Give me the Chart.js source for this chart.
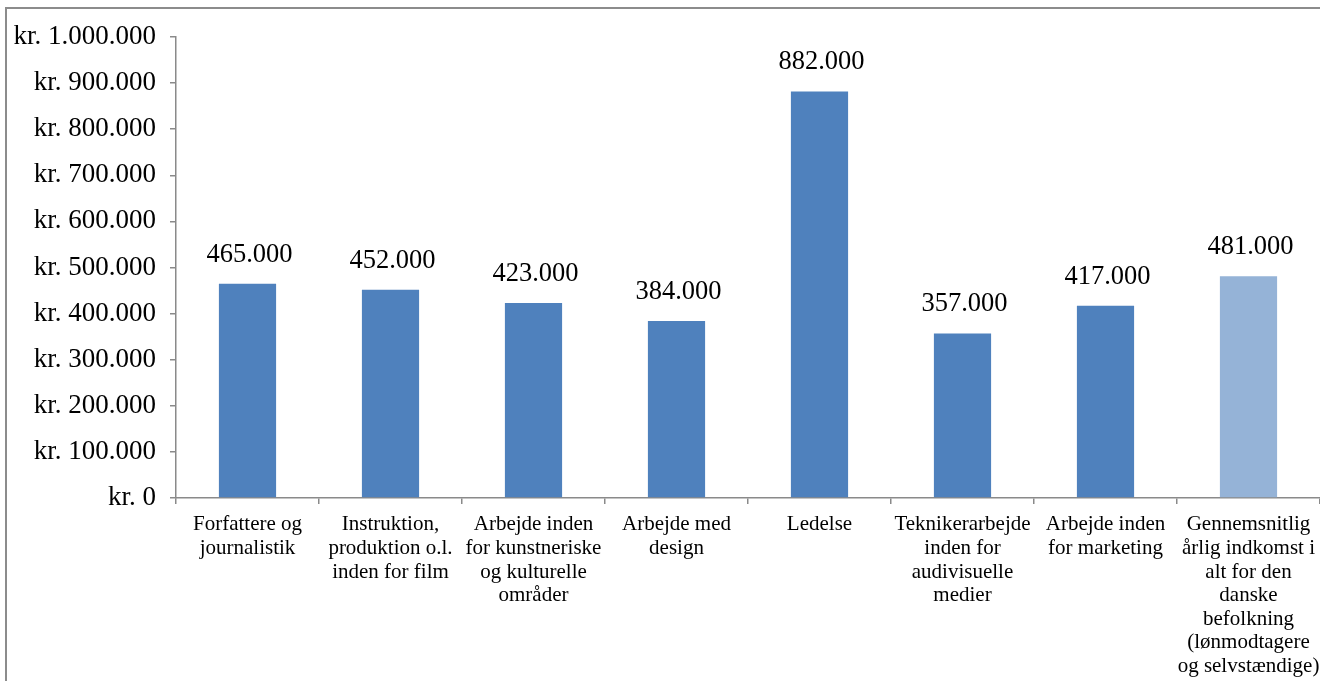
<!DOCTYPE html>
<html>
<head>
<meta charset="utf-8">
<script src="https://cdn.jsdelivr.net/npm/chart.js@4"></script>
<style>
  html, body { margin: 0; padding: 0; width: 1320px; height: 681px; overflow: hidden; background: #fff; }
  #frame { position: absolute; left: 5px; top: 7px; width: 1400px; height: 800px; border: 2px solid #8c8c8c; box-sizing: border-box; }
  #c { position: absolute; left: 0; top: 0; }
</style>
</head>
<body>
<div id="frame"></div>
<canvas id="c" width="1320" height="681"></canvas>
<script>
const categories = [
  ["Forfattere og", "journalistik"],
  ["Instruktion,", "produktion o.l.", "inden for film"],
  ["Arbejde inden", "for kunstneriske", "og kulturelle", "områder"],
  ["Arbejde med", "design"],
  ["Ledelse"],
  ["Teknikerarbejde", "inden for", "audivisuelle", "medier"],
  ["Arbejde inden", "for marketing"],
  ["Gennemsnitlig", "årlig indkomst i", "alt for den", "danske", "befolkning", "(lønmodtagere", "og selvstændige)"]
];
const incomeValues = [465000, 452000, 423000, 384000, 882000, 357000, 417000, 481000];
const barColors = ["#4F81BD", "#4F81BD", "#4F81BD", "#4F81BD", "#4F81BD", "#4F81BD", "#4F81BD", "#95B3D7"];
const yTickMax = 1000000;
const yTickStep = 100000;

function fmt(v) {
  return String(Math.round(v)).replace(/\B(?=(\d{3})+(?!\d))/g, ".");
}

const FONT = "'Liberation Serif', 'Times New Roman', serif";

const valueLabels = {
  id: 'valueLabels',
  afterDatasetsDraw(chart) {
    const ctx = chart.ctx;
    const meta = chart.getDatasetMeta(0);
    ctx.save();
    ctx.font = "26.5px " + FONT;
    ctx.fillStyle = "#000";
    ctx.textAlign = "center";
    ctx.textBaseline = "middle";
    meta.data.forEach((bar, i) => {
      ctx.fillText(fmt(chart.data.datasets[0].data[i]), bar.x + 2, bar.y - 29);
    });
    ctx.restore();
  }
};

new Chart(document.getElementById('c'), {
  type: 'bar',
  data: {
    labels: categories,
    datasets: [{
      data: incomeValues,
      backgroundColor: barColors,
      borderWidth: 0,
      barPercentage: 0.4,
      categoryPercentage: 1.0
    }]
  },
  options: {
    responsive: false,
    animation: false,
    devicePixelRatio: 1,
    layout: { padding: { top: 37, right: 0, bottom: 0, left: 0 } },
    plugins: { legend: { display: false }, tooltip: { enabled: false } },
    scales: {
      x: {
        grid: { display: true, drawOnChartArea: false, offset: true, tickLength: 6, color: '#8a8a8a', lineWidth: 1.5 },
        border: { display: true, color: '#8a8a8a', width: 1.5 },
        ticks: { color: '#000', font: { family: FONT, size: 21, lineHeight: 1.125 }, padding: 9, maxRotation: 0, minRotation: 0, autoSkip: false },
        afterFit(scale) { scale.height = 183; scale.paddingLeft = 0; scale.paddingRight = 0; }
      },
      y: {
        min: 0, max: yTickMax,
        grid: { display: true, drawOnChartArea: false, tickLength: 6, color: '#8a8a8a', lineWidth: 1.5 },
        border: { display: true, color: '#8a8a8a', width: 1.5 },
        ticks: { stepSize: yTickStep, color: '#000', font: { family: FONT, size: 27 }, padding: 14,
          callback: (v) => 'kr. ' + fmt(v) },
        afterFit(scale) { scale.width = 176; scale.paddingTop = 0; scale.paddingBottom = 0; }
      }
    }
  },
  plugins: [valueLabels]
});
</script>
</body>
</html>
